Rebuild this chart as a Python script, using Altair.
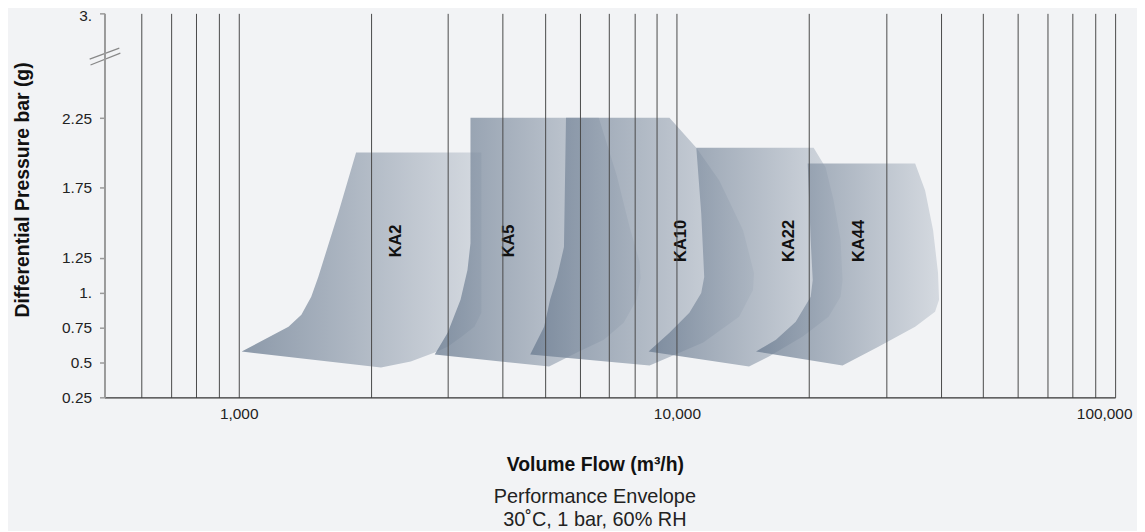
import altair as alt
import pandas as pd

# ---------------- data ----------------
grid_flows = [600, 700, 800, 900, 1000, 2000, 3000, 4000, 5000, 6000, 7000, 8000, 9000,
              10000, 20000, 30000, 40000, 50000, 60000, 70000, 80000, 90000, 100000]
labelled_flows = [1000, 10000, 100000]
pressure_ticks = [0.25, 0.5, 0.75, 1, 1.25, 1.75, 2.25, 3]

models = ["KA2", "KA5", "KA10", "KA22", "KA44"]

ka2_flow = [1016, 1299, 1390, 1464, 1519, 1687, 1853, 3580, 3580, 3451, 3208, 2998, 2801, 2470, 2112]
ka2_pressure = [0.578, 0.756, 0.841, 0.970, 1.112, 1.568, 2.003, 2.003, 0.856, 0.756, 0.678, 0.613, 0.571, 0.507, 0.464]

ka5_flow = [2801, 2998, 3208, 3327, 3380, 3380, 6633, 7290, 7802, 8222, 8264, 8093, 7560, 6811, 5914, 5109]
ka5_pressure = [0.556, 0.713, 0.948, 1.162, 1.354, 2.252, 2.252, 1.839, 1.468, 1.219, 1.105, 0.948, 0.784, 0.663, 0.571, 0.471]

ka10_flow = [4626, 4977, 5135, 5326, 5524, 5583, 9616, 11073, 12494, 14158, 14995, 14918, 13865, 11487, 8663]
ka10_pressure = [0.556, 0.756, 0.948, 1.112, 1.326, 2.252, 2.252, 2.038, 1.803, 1.447, 1.141, 1.019, 0.827, 0.642, 0.478]

ka22_flow = [8617, 9616, 10676, 11363, 11543, 11363, 11073, 20513, 21847, 22781, 23631, 23878, 23631, 22192, 19373, 16218, 14608]
ka22_pressure = [0.578, 0.713, 0.856, 0.998, 1.112, 1.568, 2.038, 2.038, 1.896, 1.661, 1.376, 1.091, 0.970, 0.827, 0.685, 0.542, 0.471]

ka44_flow = [15154, 16826, 18672, 20197, 20413, 20197, 19881, 34970, 36850, 38427, 39437, 39646, 38825, 34970, 28827, 23878]
ka44_pressure = [0.578, 0.663, 0.792, 0.970, 1.091, 1.376, 1.924, 1.924, 1.732, 1.447, 1.141, 0.948, 0.863, 0.756, 0.613, 0.478]

label_flow = [2284, 4145, 10240, 18000, 26100]
label_pressure = [1.37, 1.37, 1.37, 1.37, 1.37]

# axis-break glyph (two short strokes across the y axis)
break_flow_start = [457, 459]
break_flow_end = [534, 537]
break_pressure_start = [2.672, 2.630]
break_pressure_end = [2.751, 2.715]

shape_flows = [ka2_flow, ka5_flow, ka10_flow, ka22_flow, ka44_flow]
shape_pressures = [ka2_pressure, ka5_pressure, ka10_pressure, ka22_pressure, ka44_pressure]

# ---------------- chart ----------------
FONT = "Liberation Sans"
x_scale = alt.Scale(type="log", domain=[494, 100000])
y_scale = alt.Scale(domain=[0.25, 3])

label_expr_x = "indexof([%s], datum.value) >= 0 ? format(datum.value, ',') : ''" % ",".join(str(v) for v in labelled_flows)
label_expr_y = "datum.value == 1 ? '1.\u00a0\u00a0' : datum.value == 3 ? '3.\u00a0\u00a0' : format(datum.value, '~g')"

x_axis = alt.Axis(
    values=grid_flows, grid=True, gridColor="#4a4a4a", gridWidth=1, ticks=False,
    domainColor="#333333", domainWidth=1.3, labelExpr=label_expr_x, labelOverlap=False,
    labelFont=FONT, labelFontSize=15.5, labelColor="#222222", labelPadding=9,
    labelFlush=True, labelFlushOffset=17,
    title="Volume Flow (m³/h)", titleFont=FONT, titleFontSize=19.5, titleFontWeight="bold",
    titleColor="#111111", titlePadding=34, titleX=493, zindex=1,
)
y_axis = alt.Axis(
    values=pressure_ticks, grid=False, domainColor="#9a9a9a", domainWidth=2,
    tickColor="#9a9a9a", tickSize=5, tickWidth=1.5, labelExpr=label_expr_y,
    labelFont=FONT, labelFontSize=15.5, labelColor="#222222", labelPadding=8,
    labelOffset={"condition": {"test": "datum.value == 3", "value": 2}, "value": 0},
    title="Differential Pressure bar (g)", titleFont=FONT, titleFontSize=19.5,
    titleFontWeight="bold", titleColor="#111111", titleX=-82, titleY=177,
    titleBaseline="middle", titleAlign="center", zindex=1,
)


def X(field):
    return alt.X(field, scale=x_scale, axis=x_axis)


def Y(field):
    return alt.Y(field, scale=y_scale, axis=y_axis)


grad = alt.Gradient(
    gradient="linear",
    stops=[alt.GradientStop(color="#6a7b90", offset=0),
           alt.GradientStop(color="#cbd1d9", offset=1)],
    x1=0, x2=1, y1=0, y2=0,
)

layers = []
for m, fl, pr in zip(models, shape_flows, shape_pressures):
    df = pd.DataFrame({"flow": fl, "pressure": pr, "idx": list(range(len(fl))), "model": m})
    layers.append(
        alt.Chart(df).mark_line(fill=grad, fillOpacity=0.75, strokeOpacity=0, strokeWidth=0)
        .encode(x=X("flow:Q"), y=Y("pressure:Q"), order="idx:Q")
    )

labels_df = pd.DataFrame({"flow": label_flow, "pressure": label_pressure, "model": models})
labels = alt.Chart(labels_df).mark_text(
    angle=270, font=FONT, fontSize=16.5, fontWeight="bold", color="#111111",
    align="center", baseline="middle",
).encode(x=X("flow:Q"), y=Y("pressure:Q"), text="model:N")

break_df = pd.DataFrame({"x1": break_flow_start, "x2": break_flow_end,
                         "y1": break_pressure_start, "y2": break_pressure_end})
breaks = alt.Chart(break_df).mark_rule(color="#888888", strokeWidth=1.2).encode(
    x=X("x1:Q"), x2="x2:Q", y=Y("y1:Q"), y2="y2:Q",
)

chart = alt.layer(*layers, labels, breaks).properties(
    width=1016, height=386,
    autosize="none",
    padding={"left": 97, "top": 4, "right": 22, "bottom": 133},
    background="#f2f3f5",
    title=alt.TitleParams(
        text=["Performance Envelope", "30˚C, 1 bar, 60% RH"],
        orient="bottom", anchor="middle", font=FONT, fontSize=20, fontWeight="normal",
        color="#222222", lineHeight=23, offset=13, dx=-15,
    ),
).configure_view(stroke=None)

chart.save("out.html", embed_options={"renderer": "svg", "actions": False})
